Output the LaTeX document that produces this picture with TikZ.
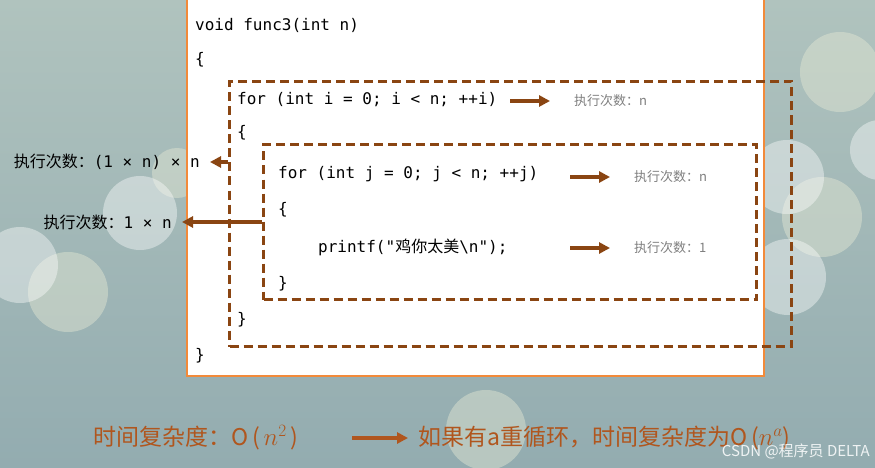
\documentclass[tikz,border=0pt]{standalone}
\usepackage{amsmath}
\usepackage{fontspec}
\setmainfont{Noto Sans CJK SC}
\newfontfamily\codefont{DejaVu Sans Mono}
\newfontfamily\cjk{Noto Sans CJK SC}
\usepackage{xcolor}
\usepackage{tikz}
\usetikzlibrary{arrows.meta,positioning,calc}
\definecolor{loopbrown}{HTML}{8A4512}
\definecolor{cardorange}{HTML}{F28A3A}
\definecolor{notebrown}{HTML}{B0561E}
\definecolor{skytop}{HTML}{B0C3BE}
\definecolor{skybot}{HTML}{93ACB0}
\definecolor{bokehcream}{HTML}{E4E8D4}

\begin{document}
\begin{tikzpicture}[
    x=1pt, y=-1pt,
    code/.style={anchor=west, inner sep=0pt, font=\codefont\fontsize{16}{20}\selectfont},
    cnt/.style={anchor=west, inner sep=0pt, text=gray, font=\fontsize{13}{16}\selectfont},
    side/.style={anchor=east, inner sep=0pt, font=\fontsize{16}{18}\selectfont},
    note/.style={anchor=west, inner sep=0pt, text=notebrown, font=\fontsize{23}{26}\selectfont},
    loopbox/.style={draw=loopbrown, line width=3pt, dash pattern=on 9pt off 5pt, anchor=north west, inner sep=0pt},
    arr/.style={-{Triangle[length=11pt,width=11pt]}, line width=3.6pt, draw=loopbrown},
    bokehw/.style={fill=white, opacity=0.4},
    bokehc/.style={fill=bokehcream, opacity=0.45}
]
    % background
    \fill [top color=skytop, bottom color=skybot] (0,0) rectangle (875,468);
    \useasboundingbox (0,0) rectangle (875,468);
    \fill [bokehc] (177,173) circle [radius=25pt];
    \fill [bokehc] (68,292) circle [radius=40pt];
    \fill [bokehw] (20,265) circle [radius=38pt];
    \fill [bokehw] (140,213) circle [radius=37pt];
    \fill [bokehc] (840,72) circle [radius=40pt];
    \fill [bokehc] (822,217) circle [radius=40pt];
    \fill [bokehw] (787,177) circle [radius=37pt];
    \fill [bokehw] (788,277) circle [radius=38pt];
    \fill [bokehw] (880,150) circle [radius=30pt];
    \fill [bokehc] (486,430) circle [radius=40pt];

    % code card
    \node [draw=cardorange, line width=2pt, fill=white, anchor=north west, inner sep=0pt,
        minimum width=577pt, minimum height=380pt] (card) at (186,-5) {};
    \node [loopbox, minimum width=562pt, minimum height=265pt] (outer) at (228,80) {};
    \node [loopbox, minimum width=493pt, minimum height=155pt] (inner) at (262,143) {};

    \node [code] (sig) at (195,25) {void func3(int n)};
    \node [code] (ob1) at (195,60) {\{};
    \node [code] (for1) at (237,100) {for (int i = 0; i < n; ++i)};
    \node [code] (ob2) at (237,133) {\{};
    \node [code] (for2) at (278,174) {for (int j = 0; j < n; ++j)};
    \node [code] (ob3) at (278,210) {\{};
    \node [code] (body) at (318,247) {printf("{\cjk 鸡你太美}\textbackslash n");};
    \node [code] (cb3) at (278,284) {\}};
    \node [code] (cb2) at (237,320) {\}};
    \node [code] (cb1) at (195,356) {\}};

    % counts
    \node [cnt] (cnt1) at (574,101) {执行次数：n};
    \node [cnt] (cnt2) at (634,177) {执行次数：n};
    \node [cnt] (cnt3) at (634,248) {执行次数：1};
    \draw [arr] ([xshift=-64pt]cnt1.west) -- ([xshift=-24pt]cnt1.west);
    \draw [arr] ([xshift=-64pt]cnt2.west) -- ([xshift=-24pt]cnt2.west);
    \draw [arr] ([xshift=-64pt]cnt3.west) -- ([xshift=-24pt]cnt3.west);

    \node [side] (tot1) at (200,162) {执行次数：{\codefont (1 × n) × n}};
    \node [side] (tot2) at (172,222) {执行次数：{\codefont 1 × n}};
    \draw [arr, shorten >=10pt] (outer.west |- tot1) -- (tot1.east);
    \draw [arr, shorten >=10pt] (inner.west |- tot2) -- (tot2.east);

    % summary
    \node [note] (sum1) at (93,438) {时间复杂度：O\,(\,$n^2$\,)};
    \node [note] (sum2) at (418,438) {如果有a重循环，时间复杂度为O\,($n^a$)};
    \draw [arr, draw=notebrown] ([xshift=-66pt]sum2.west) -- ([xshift=-10pt]sum2.west);

    \node [anchor=east, inner sep=0pt, text=white, opacity=0.85, font=\fontsize{15}{18}\selectfont] (mark) at (870,451) {CSDN @程序员 DELTA};
\end{tikzpicture}
\end{document}
